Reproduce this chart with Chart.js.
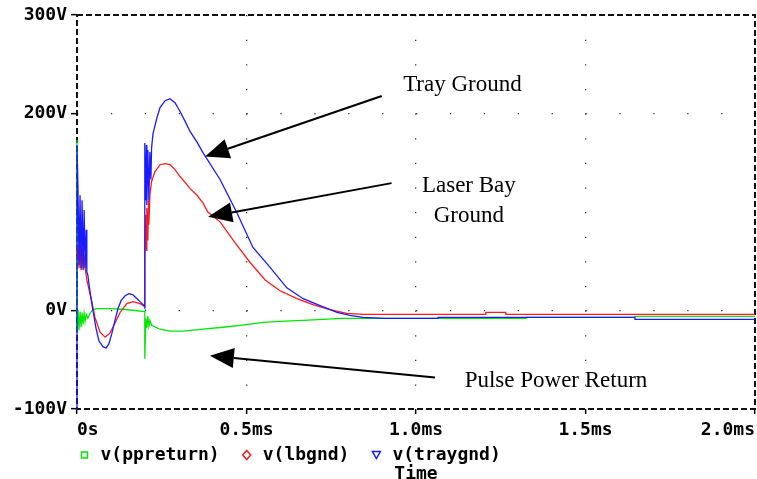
<!DOCTYPE html>
<html>
<head>
<meta charset="utf-8">
<title>Ground voltages</title>
<script src="https://cdn.jsdelivr.net/npm/chart.js@4.4.1/dist/chart.umd.min.js"></script>
<style>
    body { margin: 0; background: #fff; }
    canvas { display: block; }
</style>
</head>
<body>
<canvas id="groundChart" width="757" height="479"></canvas>
<script>
// time in ms, voltage in V
const ppTime = [0, 0, 0.003, 0.006, 0.009, 0.012, 0.015, 0.018, 0.021, 0.024, 0.027, 0.032, 0.038, 0.047, 0.059, 0.097, 0.142, 0.2,
    0.2, 0.203, 0.206, 0.209, 0.212, 0.215, 0.220, 0.245, 0.274, 0.313, 0.372, 0.431, 0.481, 0.549, 0.599, 0.667, 0.726, 0.776, 0.873,
    1.324, 1.324, 1.646, 1.646, 2.0];
const ppVolts = [173, -23, 0, -20, -1, -17, -2, -14, -3, -11, -4, -8, -3, 1, 2, 2, 1, -1,
    -49, -8, -18, -6, -16, -10, -15, -19, -21, -21, -19, -17, -15, -12, -11, -10, -9, -8, -8,
    -8, -7, -7, -6, -6];

const lbTime = [0, 0.003, 0.006, 0.009, 0.012, 0.015, 0.018, 0.021, 0.024, 0.029, 0.043, 0.053, 0.068, 0.083, 0.097, 0.112, 0.127,
    0.147, 0.165, 0.186, 0.2, 0.2, 0.203, 0.205, 0.206, 0.209, 0.211, 0.212, 0.215, 0.220, 0.230, 0.245, 0.260, 0.274, 0.289, 0.304,
    0.319, 0.333, 0.354, 0.372, 0.386, 0.422, 0.466, 0.510, 0.555, 0.599, 0.649, 0.696, 0.746, 0.796, 0.844, 1.206, 1.206, 1.265,
    1.265, 2.0];
const lbVolts = [53, 66, 43, 69, 41, 63, 43, 56, 43, 31, 10, -7, -22, -27, -23, -13, -2,
    7, 9, 7, 4, 54, 97, 61, 104, 71, 112, 87, 117, 131, 141, 148, 149, 148, 143, 136,
    130, 124, 117, 109, 100, 90, 69, 49, 31, 20, 12, 6, 1, -3, -4, -4, -2, -2,
    -4, -4];

const trayTime = [0, 0, 0.003, 0.006, 0.009, 0.012, 0.015, 0.018, 0.021, 0.024, 0.027, 0.029, 0.032, 0.038, 0.047, 0.056, 0.065,
    0.077, 0.086, 0.094, 0.103, 0.112, 0.121, 0.130, 0.142, 0.153, 0.165, 0.177, 0.189, 0.198, 0.2, 0.2, 0.203, 0.205, 0.206, 0.209,
    0.212, 0.215, 0.218, 0.220, 0.224, 0.236, 0.245, 0.260, 0.274, 0.289, 0.304, 0.319, 0.333, 0.354, 0.372, 0.422, 0.472, 0.519,
    0.569, 0.619, 0.667, 0.717, 0.767, 0.805, 0.844, 0.909, 1.065, 1.065, 1.646, 1.646, 2.0];
const trayVolts = [-100, 168, 122, 46, 117, 43, 112, 41, 102, 43, 82, 39, 36, 20, 0, -18, -31,
    -37, -38, -34, -23, -10, 2, 10, 15, 17, 16, 12, 8, 5, 3, 170, 112, 168, 107, 163,
    112, 161, 133, 165, 179, 196, 206, 213, 215, 211, 202, 192, 182, 171, 160, 133, 99, 64,
    44, 23, 12, 5, -2, -5, -7, -8, -8, -7, -7, -9, -9];

const seriesLabels = ['v(ppreturn)', 'v(lbgnd)', 'v(traygnd)'];
const xTicks = [0, 0.5, 1.0, 1.5, 2.0];
const xTickLabels = ['0s', '0.5ms', '1.0ms', '1.5ms', '2.0ms'];
const yTicks = [-100, 0, 200, 300];
const yTickLabels = ['-100V', '0V', '200V', '300V'];
const xAxisTitle = 'Time';

// hand drawn callouts (text anchor and arrow given in ms / V)
const callouts = [
    { lines: ['Tray Ground'], text: [1.137, 222.4], from: [0.899, 217.7], to: [0.378, 156.4] },
    { lines: ['Laser Bay', 'Ground'], text: [1.156, 120.4], from: [0.928, 129.3], to: [0.387, 95.2] },
    { lines: ['Pulse Power Return'], text: [1.413, -77.6], from: [1.056, -68.1], to: [0.392, -45.9] }
];

const monoFont = { family: '"DejaVu Sans Mono", monospace', size: 18, weight: 'bold' };

function toPoints(times, volts) {
    return times.map((t, i) => ({ x: t, y: volts[i] }));
}

// dashed box around the plot area, like the scope frame
const framePlugin = {
    id: 'frame',
    beforeDatasetsDraw(chart) {
        const { ctx, chartArea: a } = chart;
        ctx.save();
        ctx.strokeStyle = '#111';
        ctx.lineWidth = 2;
        ctx.setLineDash([6, 3]);
        ctx.strokeRect(a.left, a.top, a.right - a.left, a.bottom - a.top);
        ctx.restore();
    }
};

// text labels with filled arrow heads
const calloutPlugin = {
    id: 'callouts',
    afterDraw(chart) {
        const { ctx, scales: { x, y } } = chart;
        ctx.save();
        ctx.fillStyle = '#000';
        ctx.strokeStyle = '#000';
        ctx.font = '23px "Liberation Serif", "Times New Roman", serif';
        ctx.textAlign = 'center';
        ctx.textBaseline = 'alphabetic';
        callouts.forEach(c => {
            const tx = x.getPixelForValue(c.text[0]);
            const ty = y.getPixelForValue(c.text[1]);
            c.lines.forEach((line, i) => ctx.fillText(line, tx, ty + i * 30));

            const x0 = x.getPixelForValue(c.from[0]), y0 = y.getPixelForValue(c.from[1]);
            const x1 = x.getPixelForValue(c.to[0]), y1 = y.getPixelForValue(c.to[1]);
            const ang = Math.atan2(y1 - y0, x1 - x0);
            const cos = Math.cos(ang), sin = Math.sin(ang);
            const bx = x1 - 24 * cos, by = y1 - 24 * sin;
            ctx.lineWidth = 2;
            ctx.beginPath();
            ctx.moveTo(x0, y0);
            ctx.lineTo(bx, by);
            ctx.stroke();
            ctx.beginPath();
            ctx.moveTo(x1, y1);
            ctx.lineTo(bx + 10 * sin, by - 10 * cos);
            ctx.lineTo(bx - 10 * sin, by + 10 * cos);
            ctx.closePath();
            ctx.fill();
        });
        ctx.restore();
    }
};

// PSpice style trace legend under the axis, then the "Time" caption
const traceLegendPlugin = {
    id: 'traceLegend',
    afterDraw(chart) {
        const { ctx, chartArea: a } = chart;
        const cy = a.bottom + 46;
        ctx.save();
        ctx.font = 'bold 18px "DejaVu Sans Mono", monospace';
        ctx.textBaseline = 'middle';
        ctx.textAlign = 'left';
        let x = a.left + 7.5;
        chart.data.datasets.forEach(ds => {
            ctx.strokeStyle = ds.borderColor;
            ctx.lineWidth = 1.5;
            ctx.beginPath();
            if (ds.pointStyle === 'rect') {
                ctx.rect(x - 3, cy - 3, 6, 6);
            } else if (ds.pointStyle === 'rectRot') {
                ctx.moveTo(x, cy - 4.5);
                ctx.lineTo(x + 4, cy);
                ctx.lineTo(x, cy + 4.5);
                ctx.lineTo(x - 4, cy);
                ctx.closePath();
            } else {
                ctx.moveTo(x - 4, cy - 3.5);
                ctx.lineTo(x + 4, cy - 3.5);
                ctx.lineTo(x, cy + 3.5);
                ctx.closePath();
            }
            ctx.stroke();
            ctx.fillStyle = '#000';
            ctx.fillText(ds.label, x + 16, cy);
            x += 16 + ctx.measureText(ds.label).width + 27;
        });
        ctx.textAlign = 'center';
        ctx.fillText(xAxisTitle, (a.left + a.right) / 2, a.bottom + 65);
        ctx.restore();
    }
};

document.addEventListener('DOMContentLoaded', function () {
    const ctx = document.getElementById('groundChart').getContext('2d');

    const edgeColor = (c, n) => (c.index === 0 || c.index === n - 1) ? 'rgba(0,0,0,0)' : '#333';

    new Chart(ctx, {
        type: 'line',
        data: {
            datasets: [{
                label: seriesLabels[0],
                data: toPoints(ppTime, ppVolts),
                borderColor: '#00e600',
                pointStyle: 'rect',
                order: 3
            }, {
                label: seriesLabels[1],
                data: toPoints(lbTime, lbVolts),
                borderColor: '#ff1a1a',
                pointStyle: 'rectRot',
                order: 2
            }, {
                label: seriesLabels[2],
                data: toPoints(trayTime, trayVolts),
                borderColor: '#1a1aff',
                pointStyle: 'triangle',
                pointRotation: 180,
                order: 1
            }].map(ds => Object.assign(ds, {
                borderWidth: 1.3,
                pointRadius: 0,
                pointHoverRadius: 0,
                tension: 0,
                clip: 3
            }))
        },
        options: {
            responsive: false,
            animation: false,
            events: [],
            layout: {
                padding: { top: 15, right: 2, left: 0, bottom: 36 }
            },
            scales: {
                x: {
                    type: 'linear',
                    min: 0,
                    max: 2,
                    afterBuildTicks: s => { s.ticks = xTicks.map(v => ({ value: v })); },
                    afterFit: s => {
                        s.height = 34;
                        s.paddingLeft = 0;
                        s.paddingRight = 0;
                    },
                    ticks: {
                        callback: (v, i) => xTickLabels[i],
                        align: 'inner',
                        padding: 6,
                        maxRotation: 0,
                        autoSkip: false,
                        color: '#000',
                        font: monoFont
                    },
                    grid: {
                        color: c => edgeColor(c, xTicks.length),
                        lineWidth: 1.3,
                        tickLength: 5,
                        tickColor: '#000',
                        tickWidth: 1.5
                    },
                    border: {
                        display: false,
                        // a dot every 25 V along the vertical grid lines
                        dash: c => {
                            const s = c.chart.scales.y;
                            const step = Math.abs(s.getPixelForValue(25) - s.getPixelForValue(0));
                            return [1.3, step - 1.3];
                        }
                    }
                },
                y: {
                    type: 'linear',
                    min: -100,
                    max: 300,
                    afterBuildTicks: s => { s.ticks = yTicks.map(v => ({ value: v })); },
                    afterFit: s => { s.width = 77; },
                    ticks: {
                        callback: (v, i) => yTickLabels[i],
                        padding: 4,
                        color: '#000',
                        font: monoFont
                    },
                    grid: {
                        color: c => edgeColor(c, yTicks.length),
                        lineWidth: 1.3,
                        tickLength: 6,
                        tickColor: '#000',
                        tickWidth: 1.5
                    },
                    border: {
                        display: false,
                        // a dot every 0.1 ms along the horizontal grid lines
                        dash: c => {
                            const s = c.chart.scales.x;
                            const step = Math.abs(s.getPixelForValue(0.1) - s.getPixelForValue(0));
                            return [1.3, step - 1.3];
                        }
                    }
                }
            },
            plugins: {
                tooltip: { enabled: false },
                legend: { display: false },
                title: { display: false }
            }
        },
        plugins: [framePlugin, calloutPlugin, traceLegendPlugin]
    });
});
</script>
</body>
</html>
